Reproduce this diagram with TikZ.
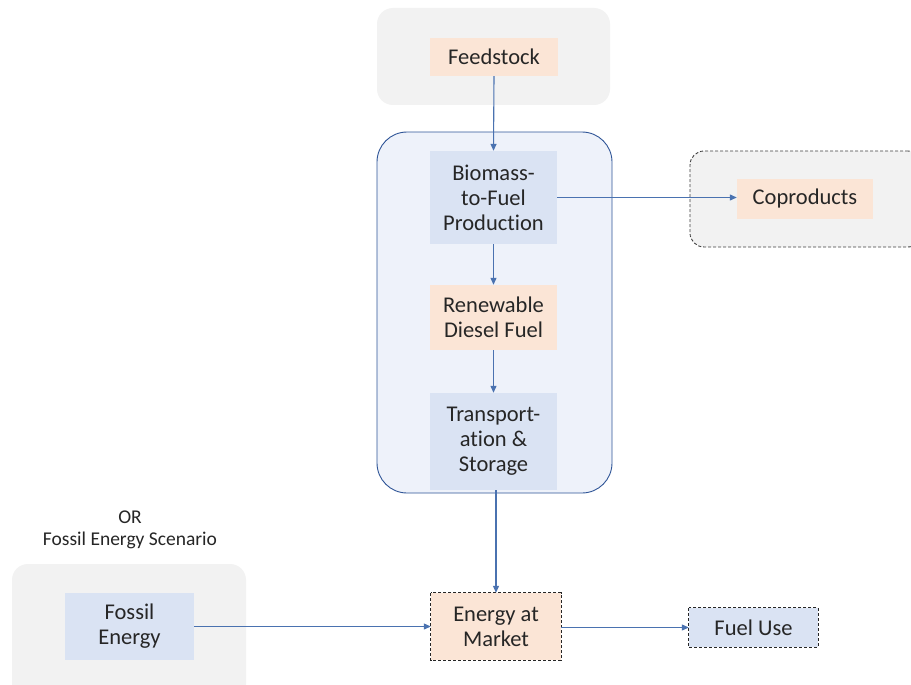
\documentclass[tikz,border=0pt]{standalone}
\usepackage{fontspec}
\setmainfont{Carlito}[Ligatures=NoCommon]
\usetikzlibrary{arrows.meta}
\definecolor{panelgrey}{HTML}{F2F2F2}
\definecolor{orangefill}{HTML}{FBE5D6}
\definecolor{bluefill}{HTML}{DAE3F3}
\definecolor{containerfill}{HTML}{EEF2FA}
\definecolor{containerline}{HTML}{2F5597}
\definecolor{flowline}{HTML}{4A72B0}
\definecolor{textdark}{HTML}{262626}
\tikzset{
  panel/.style={draw=none, fill=panelgrey, rounded corners=16pt, inner sep=0pt},
  dashpanel/.style={draw=black!75, dash pattern=on 3pt off 2pt, line width=0.9pt, fill=panelgrey, rounded corners=14pt, inner sep=0pt},
  container/.style={draw=containerline, line width=0.9pt, fill=containerfill, rounded corners=30pt, inner sep=0pt},
  orangebox/.style={fill=orangefill, inner sep=0pt, text=textdark, align=center,
    font=\fontsize{22.5}{25}\selectfont},
  bluebox/.style={fill=bluefill, inner sep=0pt, text=textdark, align=center,
    font=\fontsize{22.5}{25}\selectfont},
  dashedge/.style={draw=black!85, dash pattern=on 3pt off 2pt, line width=1pt},
  flow/.style={draw=flowline, line width=1.1pt, -{Triangle[length=7pt,width=6pt]}},
  caption/.style={text=textdark, align=center, font=\fontsize{19.5}{22}\selectfont}
}
\begin{document}
\begin{tikzpicture}[x=1pt,y=-1pt]
\clip (0,0) rectangle (911,685);
\fill[white] (0,0) rectangle (911,685);

% background panels
\node[panel, minimum width=233pt, minimum height=97pt] (feedpanel) at (493.5,56.5) {};
\node[container, minimum width=235pt, minimum height=361pt] (pathway) at (494.5,312.5) {};
\node[dashpanel, minimum width=232pt, minimum height=96pt] (copanel) at (806,199) {};
\node[panel, minimum width=234pt, minimum height=136pt] (fossilpanel) at (129,632) {};

% process and product boxes
\node[orangebox, minimum width=128pt, minimum height=38pt] (feed) at (494,57) {Feedstock};
\node[bluebox, minimum width=127pt, minimum height=93pt] (biomass) at (493.5,197.5) {Biomass-\\to-Fuel\\Production};
\node[orangebox, minimum width=127pt, minimum height=65pt] (rdf) at (493.5,317.5) {Renewable\\Diesel Fuel};
\node[bluebox, minimum width=127pt, minimum height=97pt] (transport) at (493.5,441.5) {Transport-\\ation \&\\Storage};
\node[orangebox, minimum width=136pt, minimum height=40pt] (coprod) at (805,198.5) {Coproducts};
\node[bluebox, minimum width=129pt, minimum height=67pt] (fossil) at (129.5,626.5) {Fossil\\Energy};
\node[orangebox, minimum width=130pt, minimum height=67pt] (market) at (496,626.5) {Energy at\\Market};
\node[bluebox, minimum width=129pt, minimum height=39pt] (fueluse) at (753.5,627.5) {Fuel Use};
\draw[dashedge] (market.north west) rectangle (market.south east);
\draw[dashedge] (fueluse.north west) rectangle (fueluse.south east);

% scenario caption
\node[caption] (orlabel) at (130,530) {OR\\Fossil Energy Scenario};

% flows
\draw[flow] (feed.south) -- (biomass.north);
\draw[flow] (biomass.south) -- (rdf.north);
\draw[flow] (rdf.south) -- (transport.north);
\draw[flow] (biomass.east) -- (biomass.east -| coprod.west);
\draw[flow] (transport.south -| market.north) -- (market.north);
\draw[flow] (fossil.east) -- (market.west);
\draw[flow] (market.east |- fueluse.west) -- (fueluse.west);
\end{tikzpicture}
\end{document}
